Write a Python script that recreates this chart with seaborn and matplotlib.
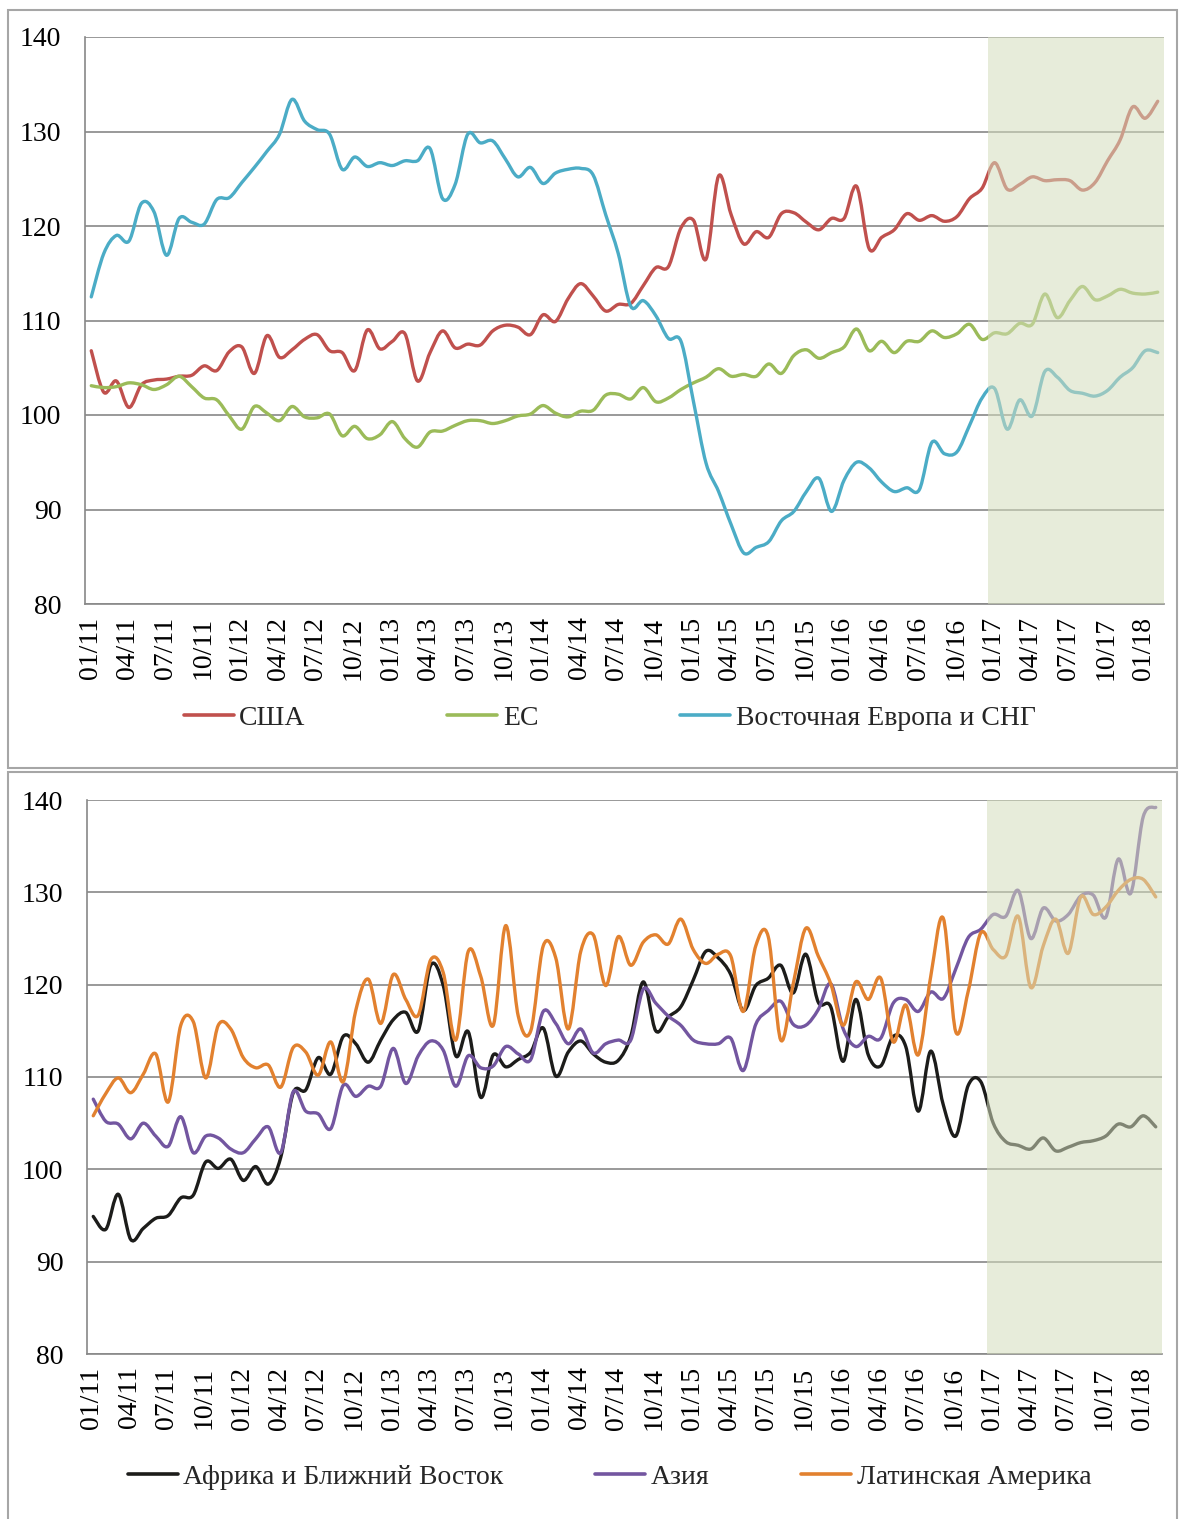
import matplotlib
matplotlib.use('Agg')
import matplotlib.pyplot as plt
from matplotlib.lines import Line2D
from matplotlib.patches import Rectangle, PathPatch
from matplotlib.path import Path
from matplotlib.transforms import ScaledTranslation
import numpy as np
import pandas as pd
import seaborn as sns

# monthly index values, 01/11 .. 02/18
months = pd.period_range('2011-01', '2018-02', freq='M')
tick_labels = [p.strftime('%m/%y') for p in months[::3]]

usa = [106.8, 102.4, 103.6, 100.8, 103.2, 103.7, 103.8, 104.1, 104.2, 105.2,
       104.7, 106.7, 107.2, 104.4, 108.4, 106.1, 106.9, 108.0, 108.5, 106.8,
       106.6, 104.7, 109.0, 107.0, 107.8, 108.6, 103.6, 106.6, 108.9, 107.1,
       107.5, 107.4, 108.9, 109.5, 109.3, 108.5, 110.6, 109.9, 112.3, 113.9,
       112.6, 111.0, 111.7, 111.8, 113.7, 115.6, 115.7, 119.8, 120.6, 116.5,
       125.3, 121.2, 118.1, 119.4, 118.8, 121.3, 121.4, 120.4, 119.6, 120.8,
       120.8, 124.2, 117.6, 118.8, 119.6, 121.3, 120.6, 121.1, 120.5, 121.0,
       122.9, 124.0, 126.7, 123.9, 124.4, 125.2, 124.8, 124.9, 124.8, 123.8,
       124.6, 126.9, 129.1, 132.6, 131.4, 133.2]
eu = [103.1, 102.9, 103.0, 103.4, 103.2, 102.7, 103.2, 104.1, 103.0, 101.8,
      101.6, 99.9, 98.5, 100.9, 100.2, 99.4, 100.9, 99.8, 99.7, 100.1,
      97.8, 98.8, 97.5, 97.9, 99.3, 97.5, 96.6, 98.2, 98.3, 98.9,
      99.4, 99.4, 99.1, 99.4, 99.9, 100.1, 101.0, 100.2, 99.8, 100.4,
      100.5, 102.1, 102.2, 101.7, 102.9, 101.4, 101.8, 102.7, 103.4, 104.0,
      104.9, 104.1, 104.3, 104.1, 105.4, 104.4, 106.3, 106.9, 106.0, 106.6,
      107.2, 109.1, 106.8, 107.8, 106.6, 107.8, 107.8, 108.9, 108.2, 108.6,
      109.6, 108.0, 108.7, 108.6, 109.7, 109.6, 112.8, 110.3, 112.1, 113.6,
      112.2, 112.6, 113.3, 112.9, 112.8, 113.0]
ee_cis = [112.5, 117.1, 119.0, 118.4, 122.4, 121.5, 116.9, 120.8, 120.4, 120.2,
          122.8, 123.0, 124.6, 126.2, 127.9, 129.7, 133.4, 131.1, 130.2, 129.7,
          126.0, 127.3, 126.3, 126.7, 126.4, 126.9, 126.9, 128.2, 122.9, 124.4,
          129.7, 128.8, 129.0, 127.1, 125.2, 126.2, 124.5, 125.6, 126.0, 126.1,
          125.4, 121.2, 117.1, 111.5, 112.1, 110.5, 108.1, 107.8, 101.4, 94.9,
          91.9, 88.4, 85.4, 86.0, 86.6, 88.8, 89.8, 91.9, 93.3, 89.8,
          93.1, 95.0, 94.4, 92.9, 91.9, 92.3, 92.1, 97.1, 95.9, 96.1,
          98.9, 101.8, 102.8, 98.5, 101.6, 99.9, 104.6, 104.0, 102.6, 102.3,
          102.0, 102.6, 104.0, 105.0, 106.8, 106.6]

africa_me = [94.9, 93.5, 97.3, 92.4, 93.6, 94.7, 95.0, 96.9, 97.2, 100.8,
             100.1, 101.1, 98.8, 100.3, 98.4, 101.3, 108.3, 108.6, 112.1, 110.3,
             114.4, 113.6, 111.6, 114.0, 116.2, 117.0, 115.0, 122.1, 119.9, 112.3,
             114.9, 107.8, 112.4, 111.1, 111.9, 112.7, 115.3, 110.1, 112.7, 113.9,
             112.5, 111.6, 111.8, 114.4, 120.3, 115.0, 116.5, 117.6, 120.5, 123.6,
             122.9, 121.1, 117.2, 119.9, 120.7, 122.1, 119.1, 123.3, 118.1, 117.6,
             111.7, 118.4, 112.4, 111.2, 114.4, 113.3, 106.3, 112.8, 107.0, 103.6,
             109.1, 109.5, 105.0, 103.0, 102.6, 102.2, 103.4, 102.0, 102.4, 102.9,
             103.1, 103.6, 104.9, 104.6, 105.8, 104.6]
asia = [107.6, 105.2, 104.9, 103.3, 105.0, 103.6, 102.5, 105.7, 101.8, 103.6,
        103.4, 102.2, 101.8, 103.3, 104.6, 101.8, 108.4, 106.3, 106.0, 104.4,
        109.1, 107.9, 109.0, 109.0, 113.1, 109.3, 112.3, 113.9, 112.9, 109.0,
        112.3, 111.0, 111.2, 113.3, 112.5, 111.9, 117.1, 115.8, 113.6, 115.2,
        112.6, 113.6, 114.0, 114.0, 119.5, 118.0, 116.6, 115.6, 114.0, 113.6,
        113.6, 114.2, 110.7, 115.7, 117.2, 118.2, 115.7, 115.6, 117.3, 120.1,
        115.2, 113.3, 114.4, 114.2, 118.0, 118.4, 117.1, 119.2, 118.5, 121.7,
        125.1, 126.0, 127.6, 127.4, 130.2, 125.0, 128.3, 126.9, 127.6, 129.6,
        129.7, 127.3, 133.6, 129.9, 138.2, 139.2]
latam = [105.8, 108.2, 109.9, 108.3, 110.3, 112.5, 107.3, 115.6, 116.0, 109.9,
         115.6, 115.2, 112.1, 111.0, 111.3, 108.9, 113.2, 112.7, 110.2, 113.8,
         109.5, 117.2, 120.6, 115.8, 121.1, 118.4, 116.7, 122.7, 121.3, 114.0,
         123.6, 120.9, 115.6, 126.4, 116.6, 115.0, 124.2, 122.9, 115.2, 123.6,
         125.4, 119.9, 125.2, 122.1, 124.6, 125.4, 124.4, 127.1, 123.8, 122.3,
         123.3, 123.1, 117.1, 124.2, 125.2, 114.0, 120.1, 126.1, 123.1, 120.1,
         115.6, 120.3, 118.4, 120.7, 113.8, 117.8, 112.4, 120.9, 127.2, 114.9,
         119.3, 125.6, 123.8, 123.1, 127.4, 119.7, 124.2, 127.1, 123.4, 129.5,
         127.6, 128.4, 130.2, 131.4, 131.4, 129.5]

top_names = ['США', 'ЕС', 'Восточная Европа и СНГ']
top_colors = ['#c0504d', '#9bbb59', '#4bacc6']
bottom_names = ['Африка и Ближний Восток', 'Азия', 'Латинская Америка']
bottom_colors = ['#1c1c1a', '#7356a0', '#e2812f']

FORECAST_START = 72   # 01/17
GRID = '#888888'

sns.set_theme(style='white')
plt.rcParams['font.family'] = ['Liberation Serif', 'DejaVu Serif']


def long_frame(names, series):
    parts = []
    for name, vals in zip(names, series):
        parts.append(pd.DataFrame({'x': np.arange(len(vals)) + 0.5,
                                   'value': vals, 'series': name}))
    return pd.concat(parts, ignore_index=True)


def smooth_line(ax, line):
    # redraw a seaborn line as an Excel-style smoothed curve through the same points
    xy = line.get_xydata()
    n = len(xy)
    padded = np.vstack([xy[0], xy, xy[-1]])
    verts = [xy[0]]
    codes = [Path.MOVETO]
    for i in range(n - 1):
        p0, p1, p2, p3 = padded[i], padded[i + 1], padded[i + 2], padded[i + 3]
        verts += [p1 + (p2 - p0) / 6, p2 - (p3 - p1) / 6, p2]
        codes += [Path.CURVE4] * 3
    patch = PathPatch(Path(verts, codes), fill=False, edgecolor=line.get_color(),
                      lw=line.get_linewidth(), capstyle='round', joinstyle='round',
                      zorder=line.get_zorder(), transform=ax.transData)
    ax.add_patch(patch)
    line.set_visible(False)


def draw_panel(ax, names, series, colors):
    df = long_frame(names, series)
    sns.lineplot(data=df, x='x', y='value', hue='series', hue_order=names,
                 palette=colors, linewidth=2.4, estimator=None, sort=False,
                 legend=False, ax=ax)
    for line in list(ax.get_lines()):
        smooth_line(ax, line)
    n = len(months)
    ax.axvspan(FORECAST_START, n, color='#d4ddbd', alpha=0.55, lw=0, zorder=5)
    ax.set_xlim(0, n)
    ax.set_ylim(80, 140)
    ax.set_yticks(range(80, 141, 10))
    ax.set_xticks(np.arange(0, n, 3))
    ax.set_xticklabels(tick_labels, rotation=90)
    ax.set_xlabel('')
    ax.set_ylabel('')
    ax.grid(axis='y', color=GRID, lw=1.2)
    ax.grid(axis='x', visible=False)
    for side in ['top', 'right']:
        ax.spines[side].set_visible(False)
    for side in ['left', 'bottom']:
        ax.spines[side].set_color(GRID)
        ax.spines[side].set_linewidth(1.2)
    ax.tick_params(axis='both', direction='out', length=6, width=1.2,
                   color=GRID, labelsize=20, labelcolor='black')
    ax.tick_params(axis='y', pad=11)
    ax.tick_params(axis='x', pad=3)
    shift = ScaledTranslation(5 / 100, 0, ax.figure.dpi_scale_trans)
    for lab in ax.get_xticklabels():
        lab.set_transform(lab.get_transform() + shift)


W, H = 1179, 1519
fig = plt.figure(figsize=(W / 100, H / 100), dpi=100)

ax_top = fig.add_axes([85 / W, 1 - 604 / H, (1164 - 85) / W, (604 - 37) / H])
ax_bot = fig.add_axes([87 / W, 1 - 1354 / H, (1162 - 87) / W, (1354 - 800) / H])

draw_panel(ax_top, top_names, [usa, eu, ee_cis], top_colors)
draw_panel(ax_bot, bottom_names, [africa_me, asia, latam], bottom_colors)

# chart-area frames
fig.patches.append(Rectangle((8 / W, 1 - 768 / H), (1177 - 8) / W, (768 - 10) / H,
                             transform=fig.transFigure, fill=False,
                             edgecolor='#a6a6a6', lw=1.5))
fig.patches.append(Rectangle((8 / W, -0.01), (1177 - 8) / W, 1 - 772 / H + 0.01,
                             transform=fig.transFigure, fill=False,
                             edgecolor='#a6a6a6', lw=1.5))


def add_legend(names, colors, y, spacing):
    handles = [Line2D([], [], color=c, lw=2.6) for c in colors]
    fig.legend(handles, names, loc='center', bbox_to_anchor=(0.517, y),
               ncol=3, frameon=False, fontsize=20, handlelength=1.8,
               handletextpad=0.2, columnspacing=spacing)


add_legend(top_names, top_colors, 1 - 718 / H, 5.1)
add_legend(bottom_names, bottom_colors, 1 - 1477 / H, 3.3)

fig.savefig('out.png', dpi=100)
